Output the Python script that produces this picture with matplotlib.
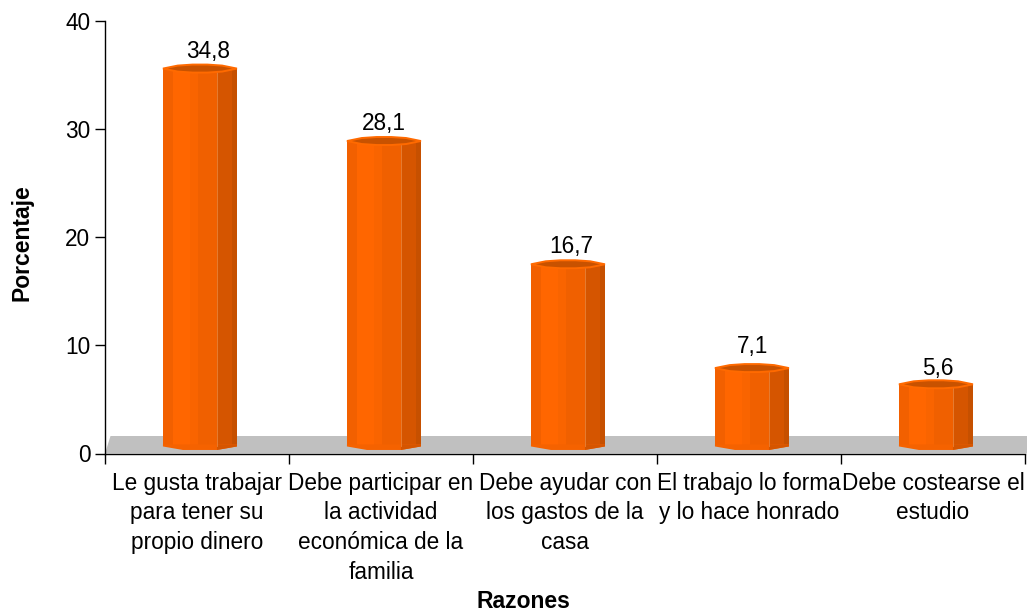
import matplotlib
matplotlib.use("Agg")
import matplotlib.pyplot as plt
from matplotlib.patches import Polygon

plt.rcParams['font.family'] = ['Liberation Sans', 'DejaVu Sans']

categories = ["Le gusta trabajar\npara tener su\npropio dinero",
              "Debe participar en\nla actividad\neconómica de la\nfamilia",
              "Debe ayudar con\nlos gastos de la\ncasa",
              "El trabajo lo forma\ny lo hace honrado",
              "Debe costearse el\nestudio"]
values = [34.8, 28.1, 16.7, 7.1, 5.6]
labels = ["34,8", "28,1", "16,7", "7,1", "5,6"]
y_ticks = [0, 10, 20, 30, 40]

W, H = 1027, 612
fig = plt.figure(figsize=(W / 100, H / 100), dpi=100, facecolor='white')
L, R, T, B = 105, 1025, 21, 453.5
ax = fig.add_axes([L / W, 1 - B / H, (R - L) / W, (B - T) / H])
ax.set_xlim(0, 5)
ax.set_ylim(0, 40)

pxx = 5 / (R - L)
pxy = 40 / (B - T)

# floor
ax.add_patch(Polygon([(0, 0), (5.5 * pxx, 17.5 * pxy), (5.02, 17.5 * pxy), (5.02, 0)],
                     closed=True, fc='#c0c0c0', ec='none', zorder=1, clip_on=False))

facet_edges = [0, .13, .36, .47, .73, .93, 1]
facet_cols = ['#f26000', '#ff6600', '#f96400', '#f06000', '#d55500', '#c65000']
width = 74 * pxx
shift = 0.516
base = 0.65
lift = 0.8
label_dx = [8, 0, 3, 1, 2]
label_dy = [17, 18, 18, 22, 16]
FS = 16.3

for i, v in enumerate(values):
    x0 = i + shift - width / 2
    bot = base
    top = v + lift
    for a, b, c in zip(facet_edges[:-1], facet_edges[1:], facet_cols):
        ax.bar(x0 + a * width, top - bot, width=(b - a) * width + 0.3 * pxx, bottom=bot,
               align='edge', color=c, lw=0, zorder=3)
    ax.plot([x0 + .73 * width] * 2, [bot, top], color='#e9833a', lw=0.6, zorder=4)
    # bottom bulge
    bx = [0, .27, .73, 1, 1, 0]
    by = [0, -3.5, -3.5, 0, 2, 2]
    ax.add_patch(Polygon([(x0 + p * width, bot + q * pxy) for p, q in zip(bx, by)],
                         closed=True, fc='#f56200', ec='none', zorder=3))
    ax.add_patch(Polygon([(x0 + .73 * width, bot - 3.5 * pxy), (x0 + width, bot),
                          (x0 + width, bot + 2 * pxy), (x0 + .73 * width, bot + 2 * pxy)],
                         closed=True, fc='#d55500', ec='none', zorder=3))
    # top cap
    tx = [0, .2, .4, .6, .8, 1, .8, .6, .4, .2]
    ty = [0, 3, 4, 4, 3, 0, -3, -4, -4, -3]
    ax.add_patch(Polygon([(x0 + p * width, top + q * pxy) for p, q in zip(tx, ty)],
                         closed=True, fc='#c85200', ec='#ff6a00', lw=1.4, zorder=5))
    ax.annotate(labels[i], (i + shift, top), xytext=(label_dx[i] * .72, label_dy[i] * .72),
                textcoords='offset points', ha='center', va='center', fontsize=FS,
                color='black', zorder=6)

for s in ['top', 'right']:
    ax.spines[s].set_visible(False)
ax.spines['left'].set_linewidth(1.0)
ax.spines['bottom'].set_linewidth(1.0)
ax.spines['bottom'].set_zorder(2)

ax.set_yticks(y_ticks)
ax.set_xticks(range(6))
ax.set_xticklabels([])
ax.tick_params(axis='y', length=7.5, width=1, labelsize=FS, pad=3)
ax.tick_params(axis='x', length=7.5, width=1)

for i, c in enumerate(categories):
    ax.annotate(c, (i + 0.5, 0), xytext=(0, -13), textcoords='offset points',
                ha='center', va='top', fontsize=FS, linespacing=1.38,
                annotation_clip=False)

fig.text(22 / W, 1 - 243 / H, "Porcentaje", rotation=90, ha='center', va='center',
         fontsize=16.5, fontweight='bold')
fig.text(523 / W, 1 - 601 / H, "Razones", ha='center', va='center',
         fontsize=16.5, fontweight='bold')

fig.savefig("out.png", dpi=100)
